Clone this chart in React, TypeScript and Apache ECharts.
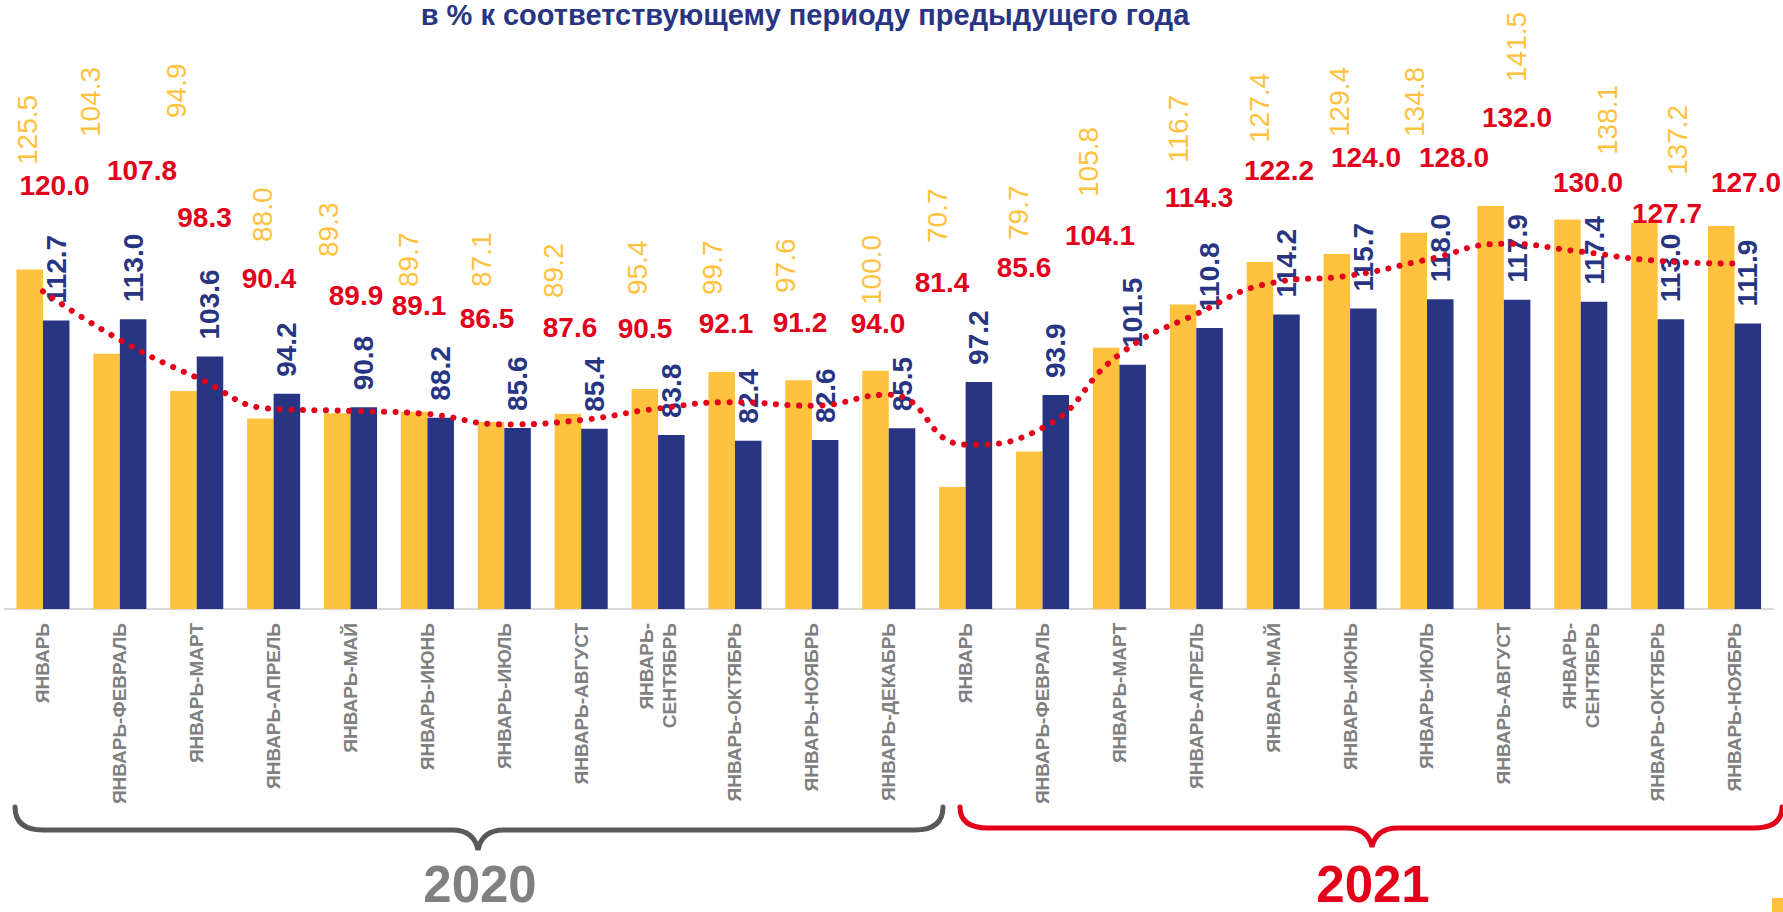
import React, { useEffect, useRef } from "react";
import * as echarts from "echarts";

// ---------- data ----------
const categories = [
  "ЯНВАРЬ", "ЯНВАРЬ-ФЕВРАЛЬ", "ЯНВАРЬ-МАРТ", "ЯНВАРЬ-АПРЕЛЬ", "ЯНВАРЬ-МАЙ", "ЯНВАРЬ-ИЮНЬ",
  "ЯНВАРЬ-ИЮЛЬ", "ЯНВАРЬ-АВГУСТ", "ЯНВАРЬ-\nСЕНТЯБРЬ", "ЯНВАРЬ-ОКТЯБРЬ", "ЯНВАРЬ-НОЯБРЬ", "ЯНВАРЬ-ДЕКАБРЬ",
  "ЯНВАРЬ", "ЯНВАРЬ-ФЕВРАЛЬ", "ЯНВАРЬ-МАРТ", "ЯНВАРЬ-АПРЕЛЬ", "ЯНВАРЬ-МАЙ", "ЯНВАРЬ-ИЮНЬ",
  "ЯНВАРЬ-ИЮЛЬ", "ЯНВАРЬ-АВГУСТ", "ЯНВАРЬ-\nСЕНТЯБРЬ", "ЯНВАРЬ-ОКТЯБРЬ", "ЯНВАРЬ-НОЯБРЬ",
];
const yellowValues = [
  125.5, 104.3, 94.9, 88.0, 89.3, 89.7, 87.1, 89.2, 95.4, 99.7, 97.6, 100.0,
  70.7, 79.7, 105.8, 116.7, 127.4, 129.4, 134.8, 141.5, 138.1, 137.2, 136.5,
];
const yellowLabelShown = [
  true, true, true, true, true, true, true, true, true, true, true, true,
  true, true, true, true, true, true, true, true, true, true, false,
];
const blueValues = [
  112.7, 113.0, 103.6, 94.2, 90.8, 88.2, 85.6, 85.4, 83.8, 82.4, 82.6, 85.5,
  97.2, 93.9, 101.5, 110.8, 114.2, 115.7, 118.0, 117.9, 117.4, 113.0, 111.9,
];
const redValues = [
  120.0, 107.8, 98.3, 90.4, 89.9, 89.1, 86.5, 87.6, 90.5, 92.1, 91.2, 94.0,
  81.4, 85.6, 104.1, 114.3, 122.2, 124.0, 128.0, 132.0, 130.0, 127.7, 127.0,
];
const titleText = "в % к соответствующему периоду предыдущего года";
const yearLabels = ["2020", "2021"];

// ---------- layout (label placements, in page pixels) ----------
const yellowLabelX = [27, 90, 176, 262, 328, 408, 481, 553, 637, 712, 785, 871, 937, 1018, 1088, 1178, 1259, 1339, 1414, 1516, 1607, 1677, 1700];
const yellowLabelBottom = [165, 137, 118, 242, 257, 287, 287, 298, 295, 295, 293, 305, 243, 240, 197, 163, 143, 137, 137, 82, 155, 175, 175];
const redLabelX = [54.5, 142, 204.5, 269, 356, 419, 487, 570, 645, 726, 800, 878, 942, 1024, 1100, 1199, 1279, 1366, 1454, 1517, 1588, 1667, 1746];
const redLabelY = [185, 170, 217, 278, 295, 305, 318, 327, 328, 323, 322, 323, 282, 267, 235, 197, 170, 157, 157, 117, 182, 213, 182];

// ---------- geometry / styles ----------
const W = 1783;
const H = 912;
const GRID_LEFT = 4.5;
const GRID_RIGHT = 10;
const BASE_Y = 609;
const Y_MIN = 40;
const Y_MAX = 160;
const PX_PER_UNIT = 3.97;
const GRID_TOP = BASE_Y - (Y_MAX - Y_MIN) * PX_PER_UNIT;
const BAND = (W - GRID_LEFT - GRID_RIGHT) / categories.length;
const CAT_GAP = 0.31;
const BAR_W = (BAND * (1 - CAT_GAP)) / 2;
const catX = (i: number) => GRID_LEFT + (i + 0.5) * BAND;
const valY = (v: number) => BASE_Y - (v - Y_MIN) * PX_PER_UNIT;

const YELLOW = "#FEC23F";
const NAVY = "#283582";
const RED = "#E2001A";
const GRAY = "#808080";
const DARKGRAY = "#595959";
const FONT = "Arial, 'Liberation Sans', sans-serif";

const GRAY_BRACE = "M15 807 Q15 830 43 830 L452 830 Q474 830 478 850 Q482 830 504 830 L915 830 Q943 830 943 807";
const RED_BRACE = "M960 807 Q960 828 988 828 L1346 828 Q1368 828 1372 847 Q1376 828 1398 828 L1754 828 Q1782 828 1782 807";

echarts.graphic.registerShape("braceGray", echarts.graphic.extendPath(GRAY_BRACE, {}));
echarts.graphic.registerShape("braceRed", echarts.graphic.extendPath(RED_BRACE, {}));

const fmt = (p: any) => Number(p.value).toFixed(1);

function buildOption() {
  const yellowData = yellowValues.map((v, i) => {
    const anchorX = catX(i) - BAR_W / 2;
    const anchorY = valY(v);
    const dx = yellowLabelX[i] - anchorX;
    const dy = yellowLabelBottom[i] - anchorY;
    return {
      value: v,
      label: {
        show: yellowLabelShown[i],
        // offset is applied in the rotated frame (rotate 90)
        offset: [-dy, dx],
      },
    };
  });
  const redData = redValues.map((v, i) => ({
    value: v,
    label: { offset: [redLabelX[i] - catX(i), redLabelY[i] - valY(v)] },
  }));

  return {
    animation: false,
    backgroundColor: "#ffffff",
    textStyle: { fontFamily: FONT },
    grid: { left: GRID_LEFT, right: GRID_RIGHT, top: GRID_TOP, bottom: H - BASE_Y, containLabel: false },
    xAxis: {
      type: "category",
      data: categories,
      axisTick: { show: false },
      axisLine: { lineStyle: { color: "#d9d9d9", width: 2 } },
      axisLabel: {
        interval: 0,
        rotate: 90,
        margin: 14,
        color: GRAY,
        fontWeight: "bold",
        fontSize: 19,
        lineHeight: 23,
        fontFamily: FONT,
      },
    },
    yAxis: {
      type: "value",
      min: Y_MIN,
      max: Y_MAX,
      show: false,
      splitLine: { show: false },
    },
    series: [
      {
        type: "bar",
        data: yellowData,
        barGap: "0%",
        barCategoryGap: CAT_GAP * 100 + "%",
        itemStyle: { color: YELLOW },
        label: {
          show: true,
          position: "top",
          distance: 0,
          rotate: 90,
          align: "left",
          verticalAlign: "middle",
          color: YELLOW,
          fontSize: 28,
          fontFamily: FONT,
          fontWeight: "normal",
          formatter: fmt,
        },
        z: 2,
      },
      {
        type: "bar",
        data: blueValues,
        itemStyle: { color: NAVY },
        label: {
          show: true,
          position: "top",
          distance: 17,
          rotate: 90,
          align: "left",
          verticalAlign: "middle",
          color: NAVY,
          fontSize: 28,
          fontFamily: FONT,
          fontWeight: "bold",
          formatter: fmt,
        },
        z: 2,
      },
      {
        type: "line",
        data: redData,
        smooth: 0.5,
        symbol: "circle",
        symbolSize: 0.01,
        showSymbol: true,
        showAllSymbol: true,
        itemStyle: { color: RED },
        lineStyle: { color: RED, width: 6, type: [0.1, 11.5], cap: "round" },
        label: {
          show: true,
          position: "inside",
          align: "center",
          verticalAlign: "middle",
          color: RED,
          fontSize: 28,
          fontFamily: FONT,
          fontWeight: "bold",
          formatter: fmt,
        },
        z: 4,
      },
    ],
    graphic: [
      {
        type: "text",
        x: 805,
        y: 15,
        style: {
          text: titleText,
          textAlign: "center",
          textVerticalAlign: "middle",
          fill: NAVY,
          font: `bold 29px ${FONT}`,
        },
      },
      {
        type: "braceGray",
        x: 0,
        y: 0,
        style: { stroke: DARKGRAY, lineWidth: 5, fill: null, lineCap: "round" },
      },
      {
        type: "braceRed",
        x: 0,
        y: 0,
        style: { stroke: RED, lineWidth: 5, fill: null, lineCap: "round" },
      },
      {
        type: "text",
        x: 480,
        y: 884,
        style: {
          text: yearLabels[0],
          textAlign: "center",
          textVerticalAlign: "middle",
          fill: GRAY,
          font: `bold 51px ${FONT}`,
        },
      },
      {
        type: "text",
        x: 1373,
        y: 884,
        style: {
          text: yearLabels[1],
          textAlign: "center",
          textVerticalAlign: "middle",
          fill: RED,
          font: `bold 51px ${FONT}`,
        },
      },
      {
        type: "rect",
        shape: { x: 1772, y: 898, width: 11, height: 14 },
        style: { fill: YELLOW },
      },
    ],
  };
}

export default function App() {
  const ref = useRef<HTMLDivElement | null>(null);
  useEffect(() => {
    if (!ref.current) return;
    const chart = echarts.init(ref.current, undefined, { renderer: "svg" });
    chart.setOption(buildOption() as any);
    return () => chart.dispose();
  }, []);
  return (
    <div
      ref={ref}
      style={{ position: "absolute", left: 0, top: 0, width: W, height: H, background: "#fff" }}
    />
  );
}
